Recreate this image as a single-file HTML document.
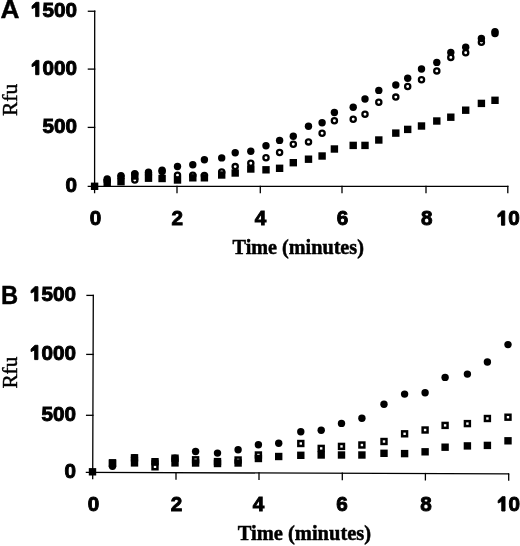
<!DOCTYPE html>
<html><head><meta charset="utf-8"><style>
html,body{margin:0;padding:0;background:#fff;}
body{width:520px;height:546px;overflow:hidden;}
svg{display:block;filter:blur(0.35px);}
.tk{font-family:"Liberation Sans",sans-serif;font-weight:bold;font-size:21px;fill:#000;stroke:#000;stroke-width:0.95px;}
.pl{font-family:"Liberation Sans",sans-serif;font-weight:bold;font-size:25px;fill:#000;stroke:#000;stroke-width:0.4px;}
.ti{font-family:"Liberation Serif",serif;font-weight:bold;font-size:20.6px;fill:#000;stroke:#000;stroke-width:0.5px;}
.rf{font-family:"Liberation Serif",serif;font-size:21.3px;fill:#000;stroke:#000;stroke-width:0.45px;}
</style></head><body>
<svg width="520" height="546" viewBox="0 0 520 546">
<rect width="520" height="546" fill="#fff"/>
<g stroke="#000" stroke-width="1.3" fill="none" stroke-linecap="square">
<line x1="94.70" y1="11.2" x2="94.60" y2="192.60"/>
<line x1="88.30" y1="186.30" x2="507.8" y2="186.30"/>
<line x1="88.40" y1="11.25" x2="94.70" y2="11.25"/>
<line x1="88.37" y1="69.1" x2="94.67" y2="69.1"/>
<line x1="88.33" y1="127.4" x2="94.63" y2="127.4"/>
<line x1="177.0" y1="186.30" x2="177.0" y2="192.60"/>
<line x1="260.3" y1="186.30" x2="260.3" y2="192.60"/>
<line x1="342.0" y1="186.30" x2="342.0" y2="192.60"/>
<line x1="426.0" y1="186.30" x2="426.0" y2="192.60"/>
<line x1="507.8" y1="186.30" x2="507.8" y2="192.60"/>
<line x1="93.30" y1="295.4" x2="92.70" y2="478.70"/>
<line x1="86.40" y1="472.40" x2="508.7" y2="473.85"/>
<line x1="87.00" y1="295.4" x2="93.30" y2="295.4"/>
<line x1="86.80" y1="354.4" x2="93.10" y2="354.4"/>
<line x1="86.59" y1="415.3" x2="92.89" y2="415.3"/>
<line x1="176.0" y1="472.69" x2="176.0" y2="478.99"/>
<line x1="259.0" y1="472.98" x2="259.0" y2="479.28"/>
<line x1="342.3" y1="473.27" x2="342.3" y2="479.57"/>
<line x1="425.4" y1="473.56" x2="425.4" y2="479.86"/>
<line x1="508.7" y1="473.85" x2="508.7" y2="480.15"/>
</g>
<g fill="#000">
<rect x="90.90" y="182.60" width="7.4" height="7.4"/>
<rect x="103.50" y="178.80" width="7.4" height="7.4"/>
<circle cx="107.2" cy="181.0" r="2.60" fill="none" stroke="#000" stroke-width="2.3"/>
<circle cx="107.2" cy="179.0" r="3.7"/>
<rect x="117.30" y="178.00" width="7.4" height="7.4"/>
<circle cx="121.0" cy="177.0" r="2.60" fill="none" stroke="#000" stroke-width="2.3"/>
<circle cx="121.0" cy="175.6" r="3.7"/>
<rect x="131.10" y="172.30" width="7.4" height="7.4"/>
<circle cx="134.8" cy="180.0" r="2.60" fill="none" stroke="#000" stroke-width="2.3"/>
<circle cx="134.8" cy="173.7" r="3.7"/>
<rect x="144.80" y="174.50" width="7.4" height="7.4"/>
<circle cx="148.5" cy="174.0" r="2.60" fill="none" stroke="#000" stroke-width="2.3"/>
<circle cx="148.5" cy="172.2" r="3.7"/>
<rect x="158.40" y="174.80" width="7.4" height="7.4"/>
<circle cx="162.1" cy="171.5" r="2.60" fill="none" stroke="#000" stroke-width="2.3"/>
<circle cx="162.1" cy="170.2" r="3.7"/>
<rect x="173.80" y="176.30" width="7.4" height="7.4"/>
<circle cx="177.5" cy="175.2" r="2.60" fill="none" stroke="#000" stroke-width="2.3"/>
<circle cx="177.5" cy="166.5" r="3.7"/>
<rect x="189.10" y="174.10" width="7.4" height="7.4"/>
<circle cx="192.8" cy="175.3" r="2.60" fill="none" stroke="#000" stroke-width="2.3"/>
<circle cx="192.8" cy="164.8" r="3.7"/>
<rect x="200.70" y="174.10" width="7.4" height="7.4"/>
<circle cx="204.4" cy="175.6" r="2.60" fill="none" stroke="#000" stroke-width="2.3"/>
<circle cx="204.4" cy="159.8" r="3.7"/>
<rect x="218.00" y="171.30" width="7.4" height="7.4"/>
<circle cx="221.7" cy="172.0" r="2.60" fill="none" stroke="#000" stroke-width="2.3"/>
<circle cx="221.7" cy="157.9" r="3.7"/>
<rect x="231.50" y="169.30" width="7.4" height="7.4"/>
<circle cx="235.2" cy="166.6" r="2.60" fill="none" stroke="#000" stroke-width="2.3"/>
<circle cx="235.2" cy="152.7" r="3.7"/>
<rect x="247.10" y="165.30" width="7.4" height="7.4"/>
<circle cx="250.8" cy="163.3" r="2.60" fill="none" stroke="#000" stroke-width="2.3"/>
<circle cx="250.8" cy="151.2" r="3.7"/>
<rect x="262.30" y="166.10" width="7.4" height="7.4"/>
<circle cx="266.0" cy="157.7" r="2.60" fill="none" stroke="#000" stroke-width="2.3"/>
<circle cx="266.0" cy="145.8" r="3.7"/>
<rect x="275.90" y="164.60" width="7.4" height="7.4"/>
<circle cx="279.6" cy="152.5" r="2.60" fill="none" stroke="#000" stroke-width="2.3"/>
<circle cx="279.6" cy="140.4" r="3.7"/>
<rect x="289.60" y="159.00" width="7.4" height="7.4"/>
<circle cx="293.3" cy="144.2" r="2.60" fill="none" stroke="#000" stroke-width="2.3"/>
<circle cx="293.3" cy="136.2" r="3.7"/>
<rect x="304.80" y="155.50" width="7.4" height="7.4"/>
<circle cx="308.5" cy="141.9" r="2.60" fill="none" stroke="#000" stroke-width="2.3"/>
<circle cx="308.5" cy="126.2" r="3.7"/>
<rect x="318.40" y="152.30" width="7.4" height="7.4"/>
<circle cx="322.1" cy="133.3" r="2.60" fill="none" stroke="#000" stroke-width="2.3"/>
<circle cx="322.1" cy="122.7" r="3.7"/>
<rect x="330.70" y="145.30" width="7.4" height="7.4"/>
<circle cx="334.4" cy="120.8" r="2.60" fill="none" stroke="#000" stroke-width="2.3"/>
<circle cx="334.4" cy="112.5" r="3.7"/>
<rect x="349.50" y="141.70" width="7.4" height="7.4"/>
<circle cx="353.2" cy="119.2" r="2.60" fill="none" stroke="#000" stroke-width="2.3"/>
<circle cx="353.2" cy="107.3" r="3.7"/>
<rect x="361.30" y="141.70" width="7.4" height="7.4"/>
<circle cx="365.0" cy="114.2" r="2.60" fill="none" stroke="#000" stroke-width="2.3"/>
<circle cx="365.0" cy="99.0" r="3.7"/>
<rect x="375.10" y="136.30" width="7.4" height="7.4"/>
<circle cx="378.8" cy="102.3" r="2.60" fill="none" stroke="#000" stroke-width="2.3"/>
<circle cx="378.8" cy="90.4" r="3.7"/>
<rect x="392.10" y="129.40" width="7.4" height="7.4"/>
<circle cx="395.8" cy="97.1" r="2.60" fill="none" stroke="#000" stroke-width="2.3"/>
<circle cx="395.8" cy="85.0" r="3.7"/>
<rect x="404.00" y="125.70" width="7.4" height="7.4"/>
<circle cx="407.7" cy="86.5" r="2.60" fill="none" stroke="#000" stroke-width="2.3"/>
<circle cx="407.7" cy="78.3" r="3.7"/>
<rect x="417.80" y="122.30" width="7.4" height="7.4"/>
<circle cx="421.5" cy="79.8" r="2.60" fill="none" stroke="#000" stroke-width="2.3"/>
<circle cx="421.5" cy="69.0" r="3.7"/>
<rect x="433.10" y="117.30" width="7.4" height="7.4"/>
<circle cx="436.8" cy="70.9" r="2.60" fill="none" stroke="#000" stroke-width="2.3"/>
<circle cx="436.8" cy="62.4" r="3.7"/>
<rect x="447.10" y="113.50" width="7.4" height="7.4"/>
<circle cx="450.8" cy="57.4" r="2.60" fill="none" stroke="#000" stroke-width="2.3"/>
<circle cx="450.8" cy="52.4" r="3.7"/>
<rect x="462.00" y="106.50" width="7.4" height="7.4"/>
<circle cx="465.7" cy="52.8" r="2.60" fill="none" stroke="#000" stroke-width="2.3"/>
<circle cx="465.7" cy="47.3" r="3.7"/>
<rect x="477.70" y="99.70" width="7.4" height="7.4"/>
<circle cx="481.4" cy="42.3" r="2.60" fill="none" stroke="#000" stroke-width="2.3"/>
<circle cx="481.4" cy="38.5" r="3.7"/>
<rect x="491.30" y="96.60" width="7.4" height="7.4"/>
<circle cx="495.0" cy="33.4" r="2.60" fill="none" stroke="#000" stroke-width="2.3"/>
<circle cx="495.0" cy="31.6" r="3.7"/>
<rect x="88.80" y="468.10" width="7.4" height="7.4"/>
<rect x="108.80" y="459.10" width="7.4" height="7.4"/>
<rect x="110.05" y="461.05" width="4.90" height="4.90" fill="none" stroke="#000" stroke-width="2.5"/>
<circle cx="112.5" cy="466.3" r="3.7"/>
<rect x="130.80" y="459.20" width="7.4" height="7.4"/>
<rect x="132.05" y="455.35" width="4.90" height="4.90" fill="none" stroke="#000" stroke-width="2.5"/>
<circle cx="134.5" cy="457.8" r="3.7"/>
<rect x="151.30" y="458.00" width="7.4" height="7.4"/>
<circle cx="155.0" cy="461.7" r="3.7"/>
<rect x="152.55" y="464.35" width="4.90" height="4.90" fill="none" stroke="#000" stroke-width="2.5"/>
<rect x="171.30" y="459.20" width="7.4" height="7.4"/>
<rect x="172.55" y="455.75" width="4.90" height="4.90" fill="none" stroke="#000" stroke-width="2.5"/>
<circle cx="175.0" cy="458.2" r="3.7"/>
<rect x="191.90" y="459.30" width="7.4" height="7.4"/>
<rect x="193.15" y="457.35" width="4.90" height="4.90" fill="none" stroke="#000" stroke-width="2.5"/>
<circle cx="195.6" cy="451.5" r="3.7"/>
<rect x="213.80" y="457.90" width="7.4" height="7.4"/>
<rect x="213.80" y="459.80" width="7.4" height="7.4"/>
<circle cx="217.5" cy="453.1" r="3.7"/>
<rect x="234.40" y="459.30" width="7.4" height="7.4"/>
<rect x="235.65" y="457.55" width="4.90" height="4.90" fill="none" stroke="#000" stroke-width="2.5"/>
<circle cx="238.1" cy="449.8" r="3.7"/>
<rect x="254.70" y="454.80" width="7.4" height="7.4"/>
<rect x="255.95" y="452.55" width="4.90" height="4.90" fill="none" stroke="#000" stroke-width="2.5"/>
<circle cx="258.4" cy="444.8" r="3.7"/>
<rect x="275.00" y="452.80" width="7.4" height="7.4"/>
<circle cx="278.7" cy="443.3" r="3.7"/>
<rect x="297.10" y="451.60" width="7.4" height="7.4"/>
<rect x="298.35" y="441.05" width="4.90" height="4.90" fill="none" stroke="#000" stroke-width="2.5"/>
<circle cx="300.8" cy="431.8" r="3.7"/>
<rect x="317.50" y="451.30" width="7.4" height="7.4"/>
<rect x="318.75" y="445.95" width="4.90" height="4.90" fill="none" stroke="#000" stroke-width="2.5"/>
<circle cx="321.2" cy="430.3" r="3.7"/>
<rect x="337.80" y="451.30" width="7.4" height="7.4"/>
<rect x="339.05" y="443.95" width="4.90" height="4.90" fill="none" stroke="#000" stroke-width="2.5"/>
<circle cx="341.5" cy="423.4" r="3.7"/>
<rect x="358.20" y="451.30" width="7.4" height="7.4"/>
<rect x="359.45" y="442.55" width="4.90" height="4.90" fill="none" stroke="#000" stroke-width="2.5"/>
<circle cx="361.9" cy="418.2" r="3.7"/>
<rect x="380.30" y="449.60" width="7.4" height="7.4"/>
<rect x="381.55" y="439.05" width="4.90" height="4.90" fill="none" stroke="#000" stroke-width="2.5"/>
<circle cx="384.0" cy="404.3" r="3.7"/>
<rect x="400.90" y="449.90" width="7.4" height="7.4"/>
<rect x="402.15" y="431.35" width="4.90" height="4.90" fill="none" stroke="#000" stroke-width="2.5"/>
<circle cx="404.6" cy="394.1" r="3.7"/>
<rect x="421.40" y="448.10" width="7.4" height="7.4"/>
<rect x="422.65" y="427.55" width="4.90" height="4.90" fill="none" stroke="#000" stroke-width="2.5"/>
<circle cx="425.1" cy="392.8" r="3.7"/>
<rect x="441.40" y="443.50" width="7.4" height="7.4"/>
<rect x="442.65" y="422.95" width="4.90" height="4.90" fill="none" stroke="#000" stroke-width="2.5"/>
<circle cx="445.1" cy="377.4" r="3.7"/>
<rect x="463.70" y="442.20" width="7.4" height="7.4"/>
<rect x="464.95" y="421.15" width="4.90" height="4.90" fill="none" stroke="#000" stroke-width="2.5"/>
<circle cx="467.4" cy="374.1" r="3.7"/>
<rect x="483.70" y="441.70" width="7.4" height="7.4"/>
<rect x="484.95" y="416.05" width="4.90" height="4.90" fill="none" stroke="#000" stroke-width="2.5"/>
<circle cx="487.4" cy="362.0" r="3.7"/>
<rect x="504.30" y="437.10" width="7.4" height="7.4"/>
<rect x="505.55" y="414.75" width="4.90" height="4.90" fill="none" stroke="#000" stroke-width="2.5"/>
<circle cx="508.0" cy="344.6" r="3.7"/>
</g>
<g class="tk">
<g transform="translate(77.0,16.6) scale(0.985,1.0)"><path d="M-38.67,-14.30 L-38.67,0.00 L-41.97,0.00 L-41.97,-9.70 L-45.62,-8.00 L-45.62,-10.50 L-41.62,-14.30 Z"/><text x="0" y="0" text-anchor="end">500</text></g>
<g transform="translate(77.0,74.7) scale(0.985,1.0)"><path d="M-38.67,-14.30 L-38.67,0.00 L-41.97,0.00 L-41.97,-9.70 L-45.62,-8.00 L-45.62,-10.50 L-41.62,-14.30 Z"/><text x="0" y="0" text-anchor="end">000</text></g>
<g transform="translate(77.0,133.4) scale(0.985,1.0)"><text x="0" y="0" text-anchor="end">500</text></g>
<g transform="translate(77.0,192.4) scale(0.985,1.0)"><text x="0" y="0" text-anchor="end">0</text></g>
<g transform="translate(101.3524985,225.2) scale(0.985,1.0)"><text x="0" y="0" text-anchor="end">0</text></g>
<g transform="translate(183.0524985,225.2) scale(0.985,1.0)"><text x="0" y="0" text-anchor="end">2</text></g>
<g transform="translate(266.3524985,225.2) scale(0.985,1.0)"><text x="0" y="0" text-anchor="end">4</text></g>
<g transform="translate(348.2524985,225.2) scale(0.985,1.0)"><text x="0" y="0" text-anchor="end">6</text></g>
<g transform="translate(432.4524985,225.2) scale(0.985,1.0)"><text x="0" y="0" text-anchor="end">8</text></g>
<g transform="translate(519.804997,225.2) scale(0.985,1.0)"><path d="M-15.31,-14.30 L-15.31,0.00 L-18.61,0.00 L-18.61,-9.70 L-22.26,-8.00 L-22.26,-10.50 L-18.26,-14.30 Z"/><text x="0" y="0" text-anchor="end">0</text></g>
<g transform="translate(76.0,301.0) scale(0.985,1.0)"><path d="M-38.67,-14.30 L-38.67,0.00 L-41.97,0.00 L-41.97,-9.70 L-45.62,-8.00 L-45.62,-10.50 L-41.62,-14.30 Z"/><text x="0" y="0" text-anchor="end">500</text></g>
<g transform="translate(76.0,359.6) scale(0.985,1.0)"><path d="M-38.67,-14.30 L-38.67,0.00 L-41.97,0.00 L-41.97,-9.70 L-45.62,-8.00 L-45.62,-10.50 L-41.62,-14.30 Z"/><text x="0" y="0" text-anchor="end">000</text></g>
<g transform="translate(76.0,420.6) scale(0.985,1.0)"><text x="0" y="0" text-anchor="end">500</text></g>
<g transform="translate(76.0,478.3) scale(0.985,1.0)"><text x="0" y="0" text-anchor="end">0</text></g>
<g transform="translate(99.2524985,511.0) scale(0.985,1.0)"><text x="0" y="0" text-anchor="end">0</text></g>
<g transform="translate(182.3524985,511.0) scale(0.985,1.0)"><text x="0" y="0" text-anchor="end">2</text></g>
<g transform="translate(264.3524985,511.0) scale(0.985,1.0)"><text x="0" y="0" text-anchor="end">4</text></g>
<g transform="translate(347.7524985,511.0) scale(0.985,1.0)"><text x="0" y="0" text-anchor="end">6</text></g>
<g transform="translate(431.7524985,511.0) scale(0.985,1.0)"><text x="0" y="0" text-anchor="end">8</text></g>
<g transform="translate(520.104997,511.0) scale(0.985,1.0)"><path d="M-15.31,-14.30 L-15.31,0.00 L-18.61,0.00 L-18.61,-9.70 L-22.26,-8.00 L-22.26,-10.50 L-18.26,-14.30 Z"/><text x="0" y="0" text-anchor="end">0</text></g>
</g>
<text class="pl" transform="translate(0.4,18.4) scale(1.05,1)">A</text>
<text class="pl" transform="translate(1.0,303.5) scale(0.95,1)">B</text>
<text class="ti" transform="translate(232.6,254.1) scale(0.98,1)">Time (minutes)</text>
<text class="ti" transform="translate(237.8,539.8) scale(0.995,1)">Time (minutes)</text>
<text class="rf" transform="translate(17.4,116) rotate(-90) scale(1.01,1)">Rfu</text>
<text class="rf" transform="translate(17.3,388.6) rotate(-90)">Rfu</text>
</svg>
</body></html>
